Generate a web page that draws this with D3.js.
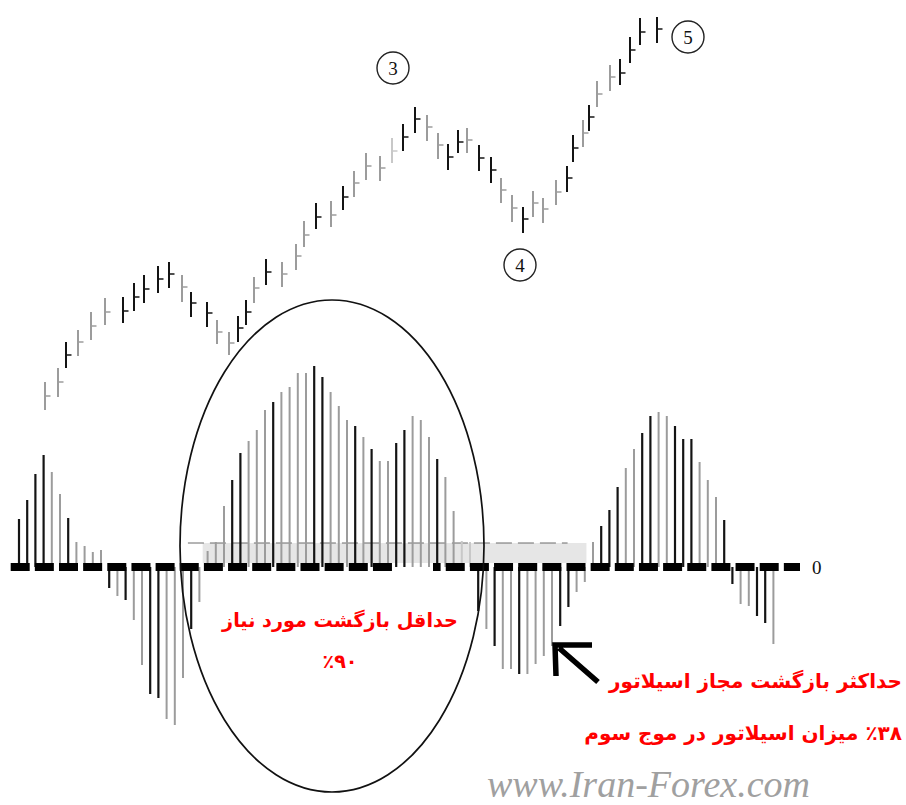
<!DOCTYPE html>
<html>
<head>
<meta charset="utf-8">
<script src="https://cdn.jsdelivr.net/npm/d3@7"></script>
<style>
html,body{margin:0;padding:0;background:#fff;}
svg{display:block;}
</style>
</head>
<body>
<div id="chart"></div>
<script>
// ---------- DATA ----------
// Price bars (time units, high, low, close, tone)
const priceT     = [0,13,21,33,46,60,78,89,99,113,124,137,146,162,172,184,193,201,209,221,237,251,259,271,286,298,309,321,335,347,358,370,382,393,403,413,422,434,446,456,467,478,488,498,511,522,528,538,544,552,565,575,585,595,612];
const priceHigh  = [38,52,78,90,108,122,123,137,145,154,158,145,128,118,100,88,104,120,143,161,158,176,199,217,219,234,249,267,264,282,296,313,305,287,276,290,292,275,263,242,225,213,229,222,240,254,285,300,315,339,355,361,383,402,403];
const priceLow   = [10,23,52,64,80,95,97,109,117,127,132,118,103,93,76,65,78,95,117,135,133,150,173,191,193,210,223,240,239,257,269,287,279,261,250,267,267,249,237,217,198,187,203,197,215,228,258,273,289,313,329,335,357,375,377];
const priceClose = [24,38,65,78,94,108,109,123,131,141,146,133,117,107,88,77,92,108,132,148,146,164,185,203,205,223,237,254,252,269,283,301,293,275,263,278,280,262,250,230,212,201,217,211,228,242,272,287,303,326,343,347,370,388,391];
const priceTone  = ["g","g","b","g","g","g","b","b","b","b","b","g","b","b","g","g","b","b","g","b","g","g","g","b","g","b","g","g","g","l","b","b","g","g","b","b","g","b","b","g","g","b","g","g","g","b","b","g","b","g","g","b","b","b","b"];

// Wave labels (time, price)
const waveLabels = ["3","4","5"];
const waveT      = [348,475,643];
const wavePrice  = [352,155,383];

// Oscillator histogram values
const oscValues = [48,67,93,112,95,73,49,25,21,15,17,
  -21,-29,-33,-53,-98,-127,-131,-152,-158,-111,-62,-35,
  16,25,61,87,114,126,137,157,165,175,180,194,194,201,190,175,161,147,141,130,118,106,106,124,137,151,147,130,108,90,56,26,25,
  -44,-62,-79,-102,-102,-107,-107,-97,-89,-79,-59,-40,-25,-15,
  25,41,57,80,99,118,134,151,155,151,141,128,128,105,87,70,47,
  -17,-37,-39,-49,-56,-77];
const oscTone = ["b","b","b","b","g","g","b","g","g","g","g",
  "b","g","b","g","g","b","b","g","g","g","b","g",
  "g","g","g","b","b","g","g","g","b","g","g","g","g","b","b","g","g","g","b","g","b","g","g","b","b","g","g","g","b","g","g","l","l",
  "b","g","b","g","g","b","g","g","g","g","b","b","g","g",
  "g","b","b","b","g","g","b","b","g","g","b","b","b","g","g","g","b",
  "b","g","g","b","b","g"];
const retraceLevel = 24;       // minimum retracement band level
const zeroLabel = "0";

// Texts
const noteLeft1  = "حداقل بازگشت مورد نیاز";
const noteLeft2  = "٪۹۰";
const noteRight1 = "حداکثر بازگشت مجاز اسیلاتور";
const noteRight2 = "٪۳۸ میزان اسیلاتور در موج سوم";
const watermark  = "www.Iran-Forex.com";

// ---------- DRAW ----------
const W = 906, H = 805;
const svg = d3.select("#chart").append("svg").attr("width", W).attr("height", H);
svg.append("rect").attr("width", W).attr("height", H).attr("fill", "#fff");

const toneColor = {b:"#141414", g:"#9c9c9c", l:"#c8c8c8"};

// price scales
const xP = d3.scaleLinear().domain([0, 612]).range([45, 657]);
const yP = d3.scaleLinear().domain([0, 400]).range([420, 20]);

// oscillator scales
const xO = d3.scaleLinear().domain([0, oscValues.length - 1]).range([19, 773.4]);
const yO = d3.scaleLinear().domain([-200, 200]).range([767, 367]);

// retracement band
const bandG = svg.append("g");
bandG.append("rect")
  .attr("x", xO(22.4)).attr("width", xO(69.2) - xO(22.4))
  .attr("y", yO(retraceLevel)).attr("height", yO(0) - 4 - yO(retraceLevel))
  .attr("fill", "#e6e6e6");
bandG.append("line")
  .attr("x1", xO(20.6)).attr("x2", xO(66.9))
  .attr("y1", yO(retraceLevel)).attr("y2", yO(retraceLevel))
  .attr("stroke", "#6a6a6a").attr("stroke-width", 1)
  .attr("stroke-dasharray", "16 6");

// histogram bars
const idx = d3.range(oscValues.length);
svg.append("g").selectAll("line").data(idx).join("line")
  .attr("x1", i => xO(i)).attr("x2", i => xO(i))
  .attr("y1", yO(0)).attr("y2", i => yO(oscValues[i]))
  .attr("stroke", i => toneColor[oscTone[i]])
  .attr("stroke-width", i => oscTone[i] === "b" ? 2.2 : 2);

// zero line (thick dashes)
const zg = svg.append("g");
zg.append("line")
  .attr("x1", 10.7).attr("x2", 392).attr("y1", yO(0)).attr("y2", yO(0))
  .attr("stroke", "#000").attr("stroke-width", 8)
  .attr("stroke-dasharray", "19 5.15");
zg.append("line")
  .attr("x1", 433).attr("x2", 800).attr("y1", yO(0)).attr("y2", yO(0))
  .attr("stroke", "#000").attr("stroke-width", 8)
  .attr("stroke-dasharray", "19 5.15").attr("stroke-dashoffset", 11.4);
svg.append("text").text(zeroLabel)
  .attr("x", 812).attr("y", yO(0) + 7)
  .attr("font-family", "Liberation Serif, serif").attr("font-size", 19)
  .attr("fill", "#111");

// price bars
const pIdx = d3.range(priceT.length);
const pg = svg.append("g");
pg.selectAll("line.hl").data(pIdx).join("line").attr("class", "hl")
  .attr("x1", i => xP(priceT[i])).attr("x2", i => xP(priceT[i]))
  .attr("y1", i => yP(priceHigh[i])).attr("y2", i => yP(priceLow[i]))
  .attr("stroke", i => toneColor[priceTone[i]]).attr("stroke-width", 2);
pg.selectAll("line.cl").data(pIdx).join("line").attr("class", "cl")
  .attr("x1", i => xP(priceT[i])).attr("x2", i => xP(priceT[i]) + 5.5)
  .attr("y1", i => yP(priceClose[i])).attr("y2", i => yP(priceClose[i]))
  .attr("stroke", i => toneColor[priceTone[i]]).attr("stroke-width", 1.5);

// wave labels
const wg = svg.append("g").selectAll("g").data(d3.range(waveLabels.length)).join("g")
  .attr("transform", i => `translate(${xP(waveT[i])},${yP(wavePrice[i])})`);
wg.append("circle").attr("r", 16).attr("fill", "none").attr("stroke", "#222").attr("stroke-width", 1.4);
wg.append("text").text(i => waveLabels[i])
  .attr("text-anchor", "middle").attr("y", 6.5)
  .attr("font-family", "Liberation Serif, serif").attr("font-size", 19).attr("fill", "#111");

// ellipse
svg.append("ellipse")
  .attr("cx", 332).attr("cy", 546).attr("rx", 152).attr("ry", 246)
  .attr("fill", "none").attr("stroke", "#111").attr("stroke-width", 1.7);

// arrow
svg.append("path")
  .attr("d", "M598,682 L559,648 M592,645 L555,645 L556,676")
  .attr("fill", "none").attr("stroke", "#000").attr("stroke-width", 5.5)
  .attr("stroke-linecap", "butt").attr("stroke-linejoin", "miter");

// notes
const fa = "DejaVu Sans, Noto Sans, sans-serif";
function note(txt, x, y, anchor, size) {
  svg.append("text").text(txt)
    .attr("x", x).attr("y", y)
    .attr("direction", "rtl").attr("text-anchor", anchor)
    .attr("font-family", fa).attr("font-weight", "bold").attr("font-size", size)
    .attr("fill", "#ff0000");
}
note(noteLeft1, 340, 627, "middle", 19.2);
note(noteLeft2, 340, 668, "middle", 19.2);
note(noteRight1, 902, 688, "start", 20);
note(noteRight2, 902, 740, "start", 20);

// watermark
svg.append("text").text(watermark)
  .attr("x", 487).attr("y", 797)
  .attr("font-family", "Liberation Serif, serif").attr("font-style", "italic")
  .attr("font-size", 38).attr("fill", "#a0a0a0");
</script>
</body>
</html>
